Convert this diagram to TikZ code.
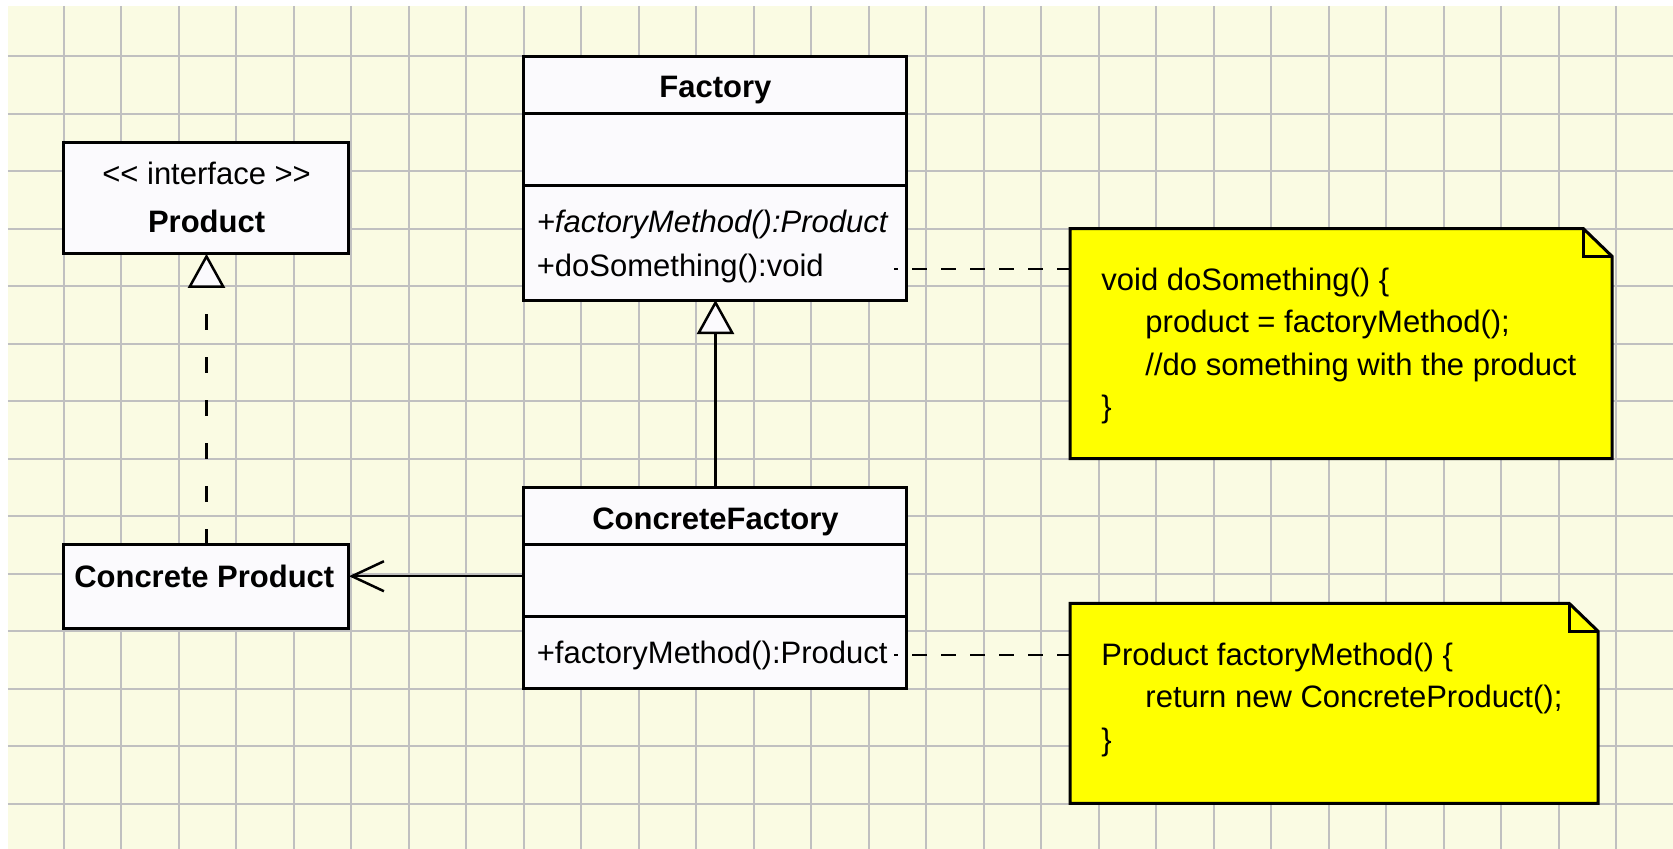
\documentclass[tikz,border=0pt]{standalone}
\usepackage{fontspec}
\setmainfont{Liberation Sans}
\usetikzlibrary{arrows.meta}

\definecolor{paper}{RGB}{250,251,227}
\definecolor{gridline}{RGB}{192,192,192}
\definecolor{boxfill}{RGB}{251,250,253}
\definecolor{notefill}{RGB}{255,255,0}

\newcommand{\umlfont}{\fontsize{31}{42.5}\selectfont}

\tikzset{
  umlbox/.style={draw, line width=3pt, fill=boxfill, inner sep=0pt, outer sep=0pt, anchor=north west},
  notebox/.style={inner sep=0pt, outer sep=0pt, anchor=north west},
  classname/.style={font=\umlfont\bfseries, inner sep=0pt, anchor=base},
  stereotype/.style={inner sep=0pt, anchor=base},
  member/.style={inner sep=0pt, anchor=base west, text width=357pt, align=left},
  % base of a multi-line node sits on its last line
  notetext/.style={inner sep=0pt, anchor=base west, align=left},
  realizes/.style={line width=2.5pt, dash pattern=on 16pt off 27pt,
    -{Triangle[length=34pt, width=37pt, fill=boxfill]}},
  inherits/.style={line width=2.5pt, -{Triangle[length=34pt, width=37pt, fill=boxfill]}},
  uses/.style={line width=2.5pt, -{Straight Barb[length=32pt, width=30pt]}},
  notelink/.style={line width=2.5pt, dash pattern=on 15pt off 14pt, dash phase=11pt}
}

\begin{document}
\begin{tikzpicture}[x=57.5pt, y=-57.5pt, font=\umlfont]
  \useasboundingbox (-1.113,-0.974) rectangle (27.983,13.791);

  % squared paper
  \fill[white] (-1.113,-0.974) rectangle (27.983,13.791);
  \fill[paper] (-0.974,-0.870) rectangle (27.983,13.791);
  \foreach \i in {0,...,27}
    \draw[gridline, line width=2pt] (\i,-0.870) -- (\i,13.791);
  \foreach \j in {0,...,13}
    \draw[gridline, line width=2pt] (-0.974,\j) -- (27.983,\j);

  % product side
  \node[umlbox, minimum width=285pt, minimum height=111pt] at (0,1.51) (product) {};
  \node[stereotype] at (2.48,2.23) (stereo) {<\kern0pt< interface >\kern0pt>};
  \node[classname] at (2.48,3.07) (productname) {Product};

  \node[umlbox, minimum width=285pt, minimum height=84pt] at (0,8.5) (cp) {};
  \node[classname] at (2.44,9.24) (cpname) {Concrete Product};

  % creator side
  \node[umlbox, minimum width=383pt, minimum height=244pt] at (8,0) (factory) {};
  \draw[line width=3pt] (factory.west |- 0,1) -- (factory.east |- 0,1);
  \draw[line width=3pt] (factory.west |- 0,2.25) -- (factory.east |- 0,2.25);
  \node[classname] at (11.33,0.72) (factoryname) {Factory};
  \node[member] at (8.22,3.07) (fmethod) {\itshape +factoryMethod():Product};
  \node[member] at (8.22,3.84) (dosth) {+doSomething():void};

  \node[umlbox, minimum width=383pt, minimum height=201.5pt] at (8,7.5) (cf) {};
  \draw[line width=3pt] (cf.west |- 0,8.5) -- (cf.east |- 0,8.5);
  \draw[line width=3pt] (cf.west |- 0,9.75) -- (cf.east |- 0,9.75);
  \node[classname] at (11.33,8.23) (cfname) {ConcreteFactory};
  \node[member] at (8.22,10.56) (cfmethod) {+factoryMethod():Product};

  % notes with a folded corner
  \node[notebox, minimum width=542pt, minimum height=230pt] at (17.5,3) (note1) {};
  \draw[line width=3pt, fill=notefill] (note1.north west) -- ([xshift=-29pt]note1.north east)
    -- ([yshift=-28pt]note1.north east) -- (note1.south east) -- (note1.south west) -- cycle;
  \draw[line width=3pt] ([xshift=-29pt]note1.north east) |- ([yshift=-28pt]note1.north east);
  \node[notetext] at (18.04,6.29) (note1text) {void doSomething() \{\\
    \hspace*{44pt}product = factoryMethod();\\
    \hspace*{44pt}//do something with the product\\
    \}};

  \node[notebox, minimum width=528pt, minimum height=200pt] at (17.5,9.52) (note2) {};
  \draw[line width=3pt, fill=notefill] (note2.north west) -- ([xshift=-29pt]note2.north east)
    -- ([yshift=-28pt]note2.north east) -- (note2.south east) -- (note2.south west) -- cycle;
  \draw[line width=3pt] ([xshift=-29pt]note2.north east) |- ([yshift=-28pt]note2.north east);
  \node[notetext] at (18.04,12.07) (note2text) {Product factoryMethod() \{\\
    \hspace*{44pt}return new ConcreteProduct();\\
    \}};

  % relations
  \draw[realizes] (cp.north) -- (product.south);
  \draw[inherits] (cf.north) -- (factory.south);
  \draw[uses] (cpname -| cf.west) -- (cpname -| cp.east);
  \draw[notelink] (dosth.east) -- (dosth.east -| note1.west);
  \draw[notelink] (cfmethod.east) -- (cfmethod.east -| note2.west);
\end{tikzpicture}
\end{document}
